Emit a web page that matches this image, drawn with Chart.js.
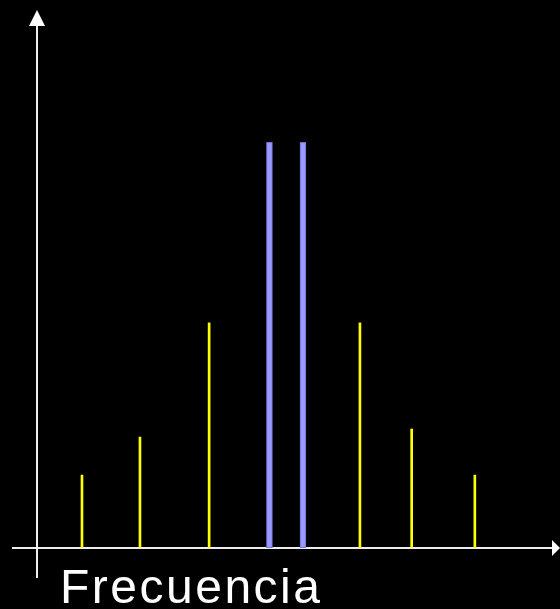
<!DOCTYPE html>
<html>
<head>
<meta charset="utf-8">
<script src="https://cdn.jsdelivr.net/npm/chart.js@4"></script>
<style>
  html, body { margin: 0; padding: 0; background: #000; }
  #wrap { position: relative; width: 560px; height: 609px; }
</style>
</head>
<body>
<div id="wrap"><canvas id="chart" width="560" height="609"></canvas></div>
<script>
// side components (yellow) and the two central lines (blue)
const sideFreqs = [8.65, 19.8, 33.1, 62.1, 72.05, 84.2];
const sideAmps = [13.6, 20.7, 42.0, 42.0, 22.2, 13.6];
const mainFreqs = [44.7, 51.15];
const mainAmps = [75.7, 75.7];
const axisLabel = "Frecuencia";

const toPoints = (xs, ys) => xs.map((x, i) => ({ x, y: ys[i] }));

// ─── Axes with arrows + label ────────────────────────────────────────────────

const arrowAxes = {
  id: "arrowAxes",
  beforeDatasetsDraw(chart) {
    const { ctx, chartArea, scales } = chart;
    const x0 = scales.x.getPixelForValue(0);
    const y0 = scales.y.getPixelForValue(0);
    ctx.save();
    ctx.strokeStyle = "#eeeeee";
    ctx.fillStyle = "#ffffff";
    ctx.lineWidth = 2;

    // x axis
    ctx.beginPath();
    ctx.moveTo(x0 - 25, y0);
    ctx.lineTo(chartArea.right - 5, y0);
    ctx.stroke();
    ctx.beginPath();
    ctx.moveTo(chartArea.right - 5, y0 - 8);
    ctx.lineTo(chartArea.right + 3, y0);
    ctx.lineTo(chartArea.right - 5, y0 + 8);
    ctx.closePath();
    ctx.fill();

    // y axis
    ctx.beginPath();
    ctx.moveTo(x0, y0 + 30);
    ctx.lineTo(x0, chartArea.top + 13);
    ctx.stroke();
    ctx.beginPath();
    ctx.moveTo(x0 - 8, chartArea.top + 14);
    ctx.lineTo(x0, chartArea.top - 2);
    ctx.lineTo(x0 + 8, chartArea.top + 14);
    ctx.closePath();
    ctx.fill();

    // label
    ctx.font = '48px "Liberation Sans", Arial, sans-serif';
    ctx.letterSpacing = "2.5px";
    ctx.textBaseline = "alphabetic";
    ctx.textAlign = "left";
    ctx.fillText(axisLabel, x0 + 23, y0 + 55);
    ctx.restore();
  },
};

// ─── Chart ────────────────────────────────────────────────────────────────────

new Chart(document.getElementById("chart").getContext("2d"), {
  type: "bar",
  data: {
    datasets: [
      {
        data: toPoints(sideFreqs, sideAmps),
        backgroundColor: "#ffff00",
        borderColor: "#b0b000",
        borderWidth: 0,
        barThickness: 2,
        grouped: false,
      },
      {
        data: toPoints(mainFreqs, mainAmps),
        backgroundColor: "#9999ff",
        borderColor: "#6f6fcc",
        borderWidth: 1,
        borderSkipped: false,
        barThickness: 6,
        grouped: false,
      },
    ],
  },
  options: {
    responsive: false,
    animation: false,
    layout: { padding: { left: 37, right: 3, top: 12, bottom: 61 } },
    plugins: { legend: { display: false }, tooltip: { enabled: false } },
    scales: {
      x: { type: "linear", min: 0, max: 100, offset: false, display: false },
      y: { type: "linear", min: 0, max: 100, display: false },
    },
  },
  plugins: [arrowAxes],
});
</script>
</body>
</html>
